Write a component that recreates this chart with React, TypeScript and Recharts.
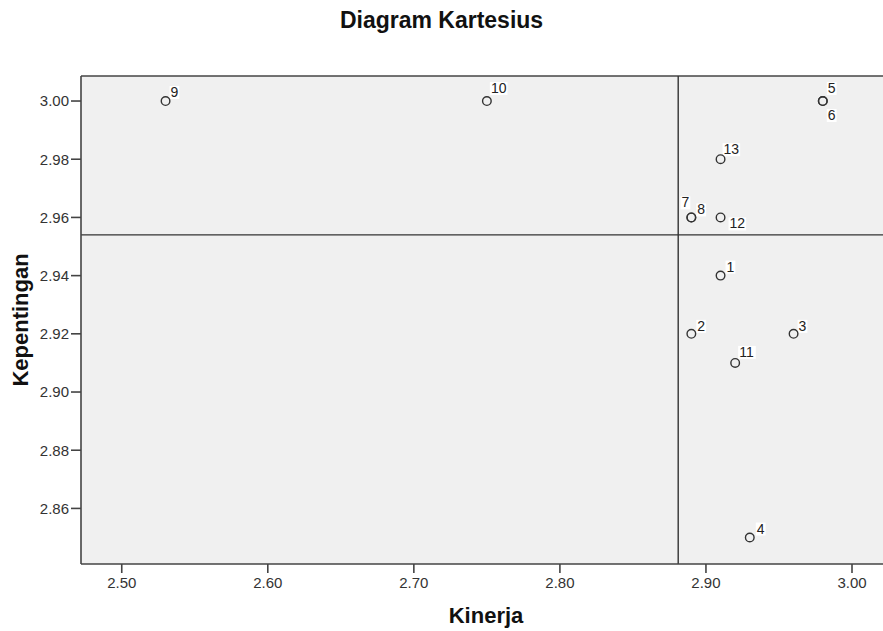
import React from "react";
import {
  CartesianGrid,
  Label,
  ReferenceLine,
  Scatter,
  ScatterChart,
  XAxis,
  YAxis,
} from "recharts";

const ids = [1, 2, 3, 4, 5, 6, 7, 8, 9, 10, 11, 12, 13];
const kinerja = [2.91, 2.89, 2.96, 2.93, 2.98, 2.98, 2.89, 2.89, 2.53, 2.75, 2.92, 2.91, 2.91];
const kepentingan = [2.94, 2.92, 2.92, 2.85, 3.0, 3.0, 2.96, 2.96, 3.0, 3.0, 2.91, 2.96, 2.98];

const xTicks = [2.5, 2.6, 2.7, 2.8, 2.9, 3.0];
const yTicks = [2.86, 2.88, 2.9, 2.92, 2.94, 2.96, 2.98, 3.0];

// quadrant dividers (means)
const kinerjaMean = 2.881;
const kepentinganMean = 2.954;

const X_DOMAIN: [number, number] = [2.4721, 3.0267];
const Y_DOMAIN: [number, number] = [2.8409, 3.0086];

const FONT = "'Liberation Sans', Arial, sans-serif";
const INK = "#333";

// where each point number sits relative to its marker
const labelOffset: Record<number, { dx: number; dy: number; anchor?: string }> = {
  1: { dx: 6, dy: -4 },
  2: { dx: 6, dy: -3 },
  3: { dx: 5, dy: -3 },
  4: { dx: 7, dy: -4 },
  5: { dx: 5, dy: -8 },
  6: { dx: 5, dy: 19 },
  7: { dx: -2, dy: -10, anchor: "end" },
  8: { dx: 6, dy: -3 },
  9: { dx: 5, dy: -4 },
  10: { dx: 4, dy: -8 },
  11: { dx: 4, dy: -6 },
  12: { dx: 9, dy: 11 },
  13: { dx: 3, dy: -5 },
};

const data = ids.map((id, i) => ({ id, x: kinerja[i], y: kepentingan[i] }));

function PointShape(props: any) {
  const { cx, cy, payload } = props;
  const off = labelOffset[payload.id] || { dx: 5, dy: -5 };
  const text = String(payload.id);
  const w = text.length * 7.8 + 2;
  const tx = off.anchor === "end" ? cx + off.dx - w + 1 : cx + off.dx - 1;
  return (
    <g>
      <rect x={tx} y={cy + off.dy - 11} width={w} height={13} fill="#fff" />
      <text
        x={cx + off.dx}
        y={cy + off.dy}
        textAnchor={off.anchor || "start"}
        fontSize={14}
        fontFamily={FONT}
        fill="#222"
      >
        {text}
      </text>
      <circle cx={cx} cy={cy} r={4.3} fill="none" stroke={INK} strokeWidth={1.4} />
    </g>
  );
}

export default function App() {
  return (
    <div
      style={{
        position: "absolute",
        left: 0,
        top: 0,
        width: 883,
        height: 631,
        overflow: "hidden",
        background: "#fff",
      }}
    >
      <div
        style={{
          position: "absolute",
          left: 0,
          top: 9,
          width: 883,
          textAlign: "center",
          fontFamily: FONT,
          fontWeight: "bold",
          fontSize: 23,
          lineHeight: "23px",
          color: "#111",
        }}
      >
        Diagram Kartesius
      </div>
      <ScatterChart
        width={891}
        height={631}
        margin={{ top: 76, right: 0, bottom: 0, left: 0 }}
      >
        <CartesianGrid fill="#f0f0f0" stroke="none" horizontal={false} vertical={false} />
        <XAxis
          type="number"
          dataKey="x"
          domain={X_DOMAIN}
          ticks={xTicks}
          allowDataOverflow
          height={67}
          tickSize={9}
          tickMargin={4}
          tickFormatter={(v: number) => v.toFixed(2)}
          tick={{ fill: INK, fontSize: 15, fontFamily: FONT }}
          axisLine={{ stroke: "#444", strokeWidth: 1.6 }}
          tickLine={{ stroke: "#444", strokeWidth: 1.6 }}
        >
          <Label
            content={({ viewBox }: any) => (
              <text
                x={viewBox.x + viewBox.width / 2}
                y={viewBox.y + 59}
                textAnchor="middle"
                fontFamily={FONT}
                fontWeight="bold"
                fontSize={22}
                fill="#111"
              >
                Kinerja
              </text>
            )}
          />
        </XAxis>
        <YAxis
          type="number"
          dataKey="y"
          domain={Y_DOMAIN}
          ticks={yTicks}
          allowDataOverflow
          width={81}
          tickSize={10}
          tickMargin={2}
          tickFormatter={(v: number) => v.toFixed(2)}
          tick={{ fill: INK, fontSize: 15, fontFamily: FONT }}
          axisLine={{ stroke: "#444", strokeWidth: 1.6 }}
          tickLine={{ stroke: "#444", strokeWidth: 1.6 }}
        >
          <Label
            content={({ viewBox }: any) => {
              const x = viewBox.x + 28;
              const y = viewBox.y + viewBox.height / 2;
              return (
                <text
                  x={x}
                  y={y}
                  transform={`rotate(-90, ${x}, ${y})`}
                  textAnchor="middle"
                  fontFamily={FONT}
                  fontWeight="bold"
                  fontSize={22}
                  fill="#111"
                >
                  Kepentingan
                </text>
              );
            }}
          />
        </YAxis>
        <ReferenceLine y={Y_DOMAIN[1]} stroke="#444" strokeWidth={1.6} />
        <ReferenceLine x={kinerjaMean} stroke={INK} strokeWidth={1.4} />
        <ReferenceLine y={kepentinganMean} stroke={INK} strokeWidth={1.4} />
        <Scatter data={data} shape={PointShape} isAnimationActive={false} />
      </ScatterChart>
    </div>
  );
}
